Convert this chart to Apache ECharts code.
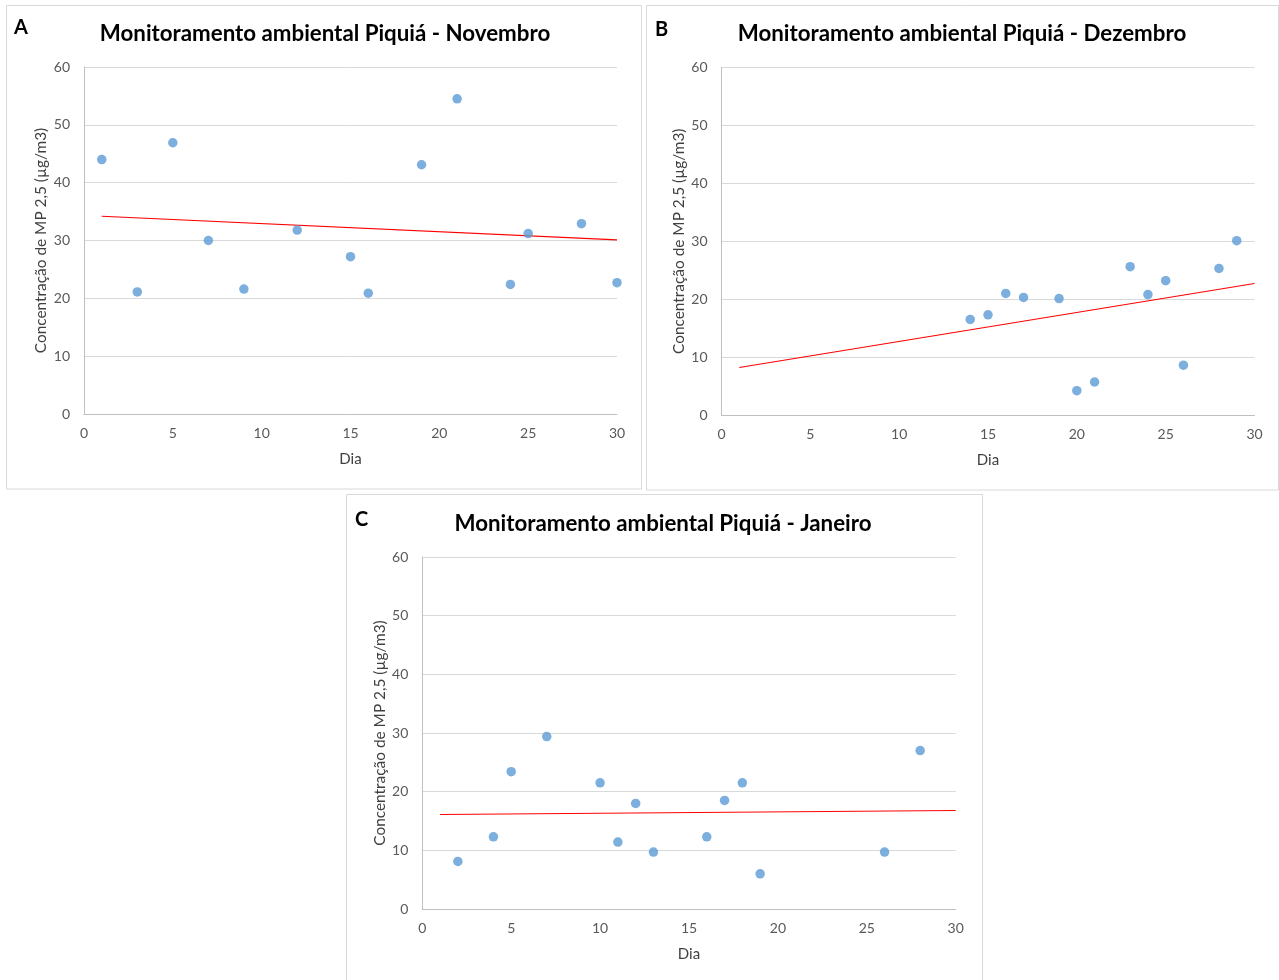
<!DOCTYPE html>
<html><head><meta charset="utf-8">
<script src="https://cdn.jsdelivr.net/npm/echarts/dist/echarts.min.js"></script>
<style>html,body{margin:0;padding:0;background:#fff}#c{width:1279px;height:980px}</style>
</head><body><div id="c"></div>
<script>
// ---- data ----
const titles = ['Monitoramento ambiental Piquiá - Novembro', 'Monitoramento ambiental Piquiá - Dezembro', 'Monitoramento ambiental Piquiá - Janeiro'];
const panelLetters = ['A', 'B', 'C'];
const xAxisName = 'Dia';
const yAxisName = 'Concentração de MP 2,5 (µg/m3)';

const daysA = [1, 3, 5, 7, 9, 12, 15, 16, 19, 21, 24, 25, 28, 30];
const valuesA = [44.0, 21.1, 46.9, 30.0, 21.6, 31.8, 27.2, 20.9, 43.1, 54.5, 22.4, 31.2, 32.9, 22.7];
const trendDaysA = [1, 30];
const trendValuesA = [34.2, 30.1];

const daysB = [14, 15, 16, 17, 19, 20, 21, 23, 24, 25, 26, 28, 29];
const valuesB = [16.5, 17.3, 21.0, 20.3, 20.1, 4.2, 5.7, 25.6, 20.8, 23.2, 8.6, 25.3, 30.1];
const trendDaysB = [1, 30];
const trendValuesB = [8.2, 22.7];

const daysC = [2, 4, 5, 7, 10, 11, 12, 13, 16, 17, 18, 19, 26, 28];
const valuesC = [8.1, 12.3, 23.4, 29.4, 21.5, 11.4, 18.0, 9.7, 12.3, 18.5, 21.5, 6.0, 9.7, 27.0];
const trendDaysC = [1, 30];
const trendValuesC = [16.1, 16.8];

const xMin = 0, xMax = 30, xStep = 5;
const yMin = 0, yMax = 60, yStep = 10;

// ---- build chart ----
const FONT = 'Lato, Carlito, Calibri, sans-serif';
const zip = (a, b) => a.map((v, i) => [v, b[i]]);
const panels = [
  { days: daysA, values: valuesA, td: trendDaysA, tv: trendValuesA },
  { days: daysB, values: valuesB, td: trendDaysB, tv: trendValuesB },
  { days: daysC, values: valuesC, td: trendDaysC, tv: trendValuesC }
];
const grids = [
  { left: 84, top: 67, width: 533, height: 347 },
  { left: 721.5, top: 67.5, width: 533, height: 347.5 },
  { left: 422.3, top: 557, width: 533.4, height: 352 }
];
const boxes = [
  { x: 6.5, y: 5.5, w: 635, h: 483.5 },
  { x: 646.5, y: 5.5, w: 632, h: 484.5 },
  { x: 346.5, y: 494.5, w: 636, h: 490 }
];
const titlePos = [
  { cx: 320, ty: 18, lx: 9, ly: 13 },
  { cx: 957, ty: 18, lx: 650, ly: 15 },
  { cx: 658, ty: 508, lx: 350, ly: 505 }
];

const option = {
  backgroundColor: '#ffffff',
  animation: false,
  title: [],
  grid: grids.map(g => Object.assign({ containLabel: false }, g)),
  xAxis: grids.map((g, i) => ({
    type: 'value', gridIndex: i, min: xMin, max: xMax, interval: xStep,
    axisLine: { show: true, onZero: false, lineStyle: { color: '#bfbfbf', width: 1 } },
    axisTick: { show: false },
    splitLine: { show: false },
    axisLabel: { color: '#595959', fontSize: 14, fontFamily: FONT, margin: 12 },
    name: xAxisName, nameLocation: 'middle', nameGap: 38,
    nameTextStyle: { color: '#404040', fontSize: 15, fontFamily: FONT }
  })),
  yAxis: grids.map((g, i) => ({
    type: 'value', gridIndex: i, min: yMin, max: yMax, interval: yStep,
    axisLine: { show: true, lineStyle: { color: '#bfbfbf', width: 1 } },
    axisTick: { show: false },
    splitLine: { show: true, lineStyle: { color: '#d9d9d9', width: 1 } },
    axisLabel: { color: '#595959', fontSize: 14, fontFamily: FONT, margin: 14 },
    name: yAxisName, nameLocation: 'middle', nameGap: 35,
    nameTextStyle: { color: '#404040', fontSize: 15.4, fontFamily: FONT }
  })),
  series: [],
  graphic: boxes.map(b => ({
    type: 'rect', silent: true, z: -1,
    shape: { x: b.x, y: b.y, width: b.w, height: b.h },
    style: { fill: 'none', stroke: '#d9d9d9', lineWidth: 1 }
  }))
};

panels.forEach((p, i) => {
  option.title.push({
    text: titles[i], left: titlePos[i].cx, top: titlePos[i].ty, textAlign: 'center',
    textStyle: { fontFamily: FONT, fontWeight: 'bold', fontSize: 22.3, color: '#000000' }
  });
  option.title.push({
    text: panelLetters[i], left: titlePos[i].lx, top: titlePos[i].ly,
    textStyle: { fontFamily: FONT, fontWeight: 'bold', fontSize: 20, color: '#000000' }
  });
  option.series.push({
    type: 'line', xAxisIndex: i, yAxisIndex: i, data: zip(p.td, p.tv),
    showSymbol: false, silent: true, z: 2,
    lineStyle: { color: '#ff0000', width: 1.1 }
  });
  option.series.push({
    type: 'scatter', xAxisIndex: i, yAxisIndex: i, data: zip(p.days, p.values),
    symbol: 'circle', symbolSize: 9.5, z: 3,
    itemStyle: { color: '#5b9bd5' }
  });
});

const chart = echarts.init(document.getElementById('c'), null, { renderer: 'canvas' });
chart.setOption(option);
</script></body></html>
